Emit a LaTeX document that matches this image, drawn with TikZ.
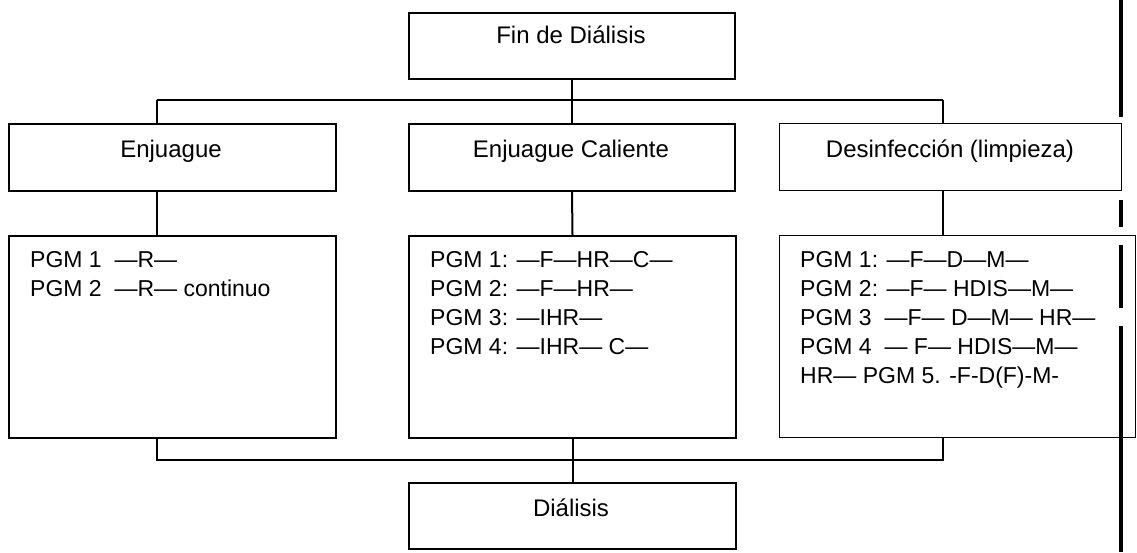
\documentclass[tikz,border=0pt]{standalone}
\usepackage{fontspec}
\setmainfont{Liberation Sans}
\begin{document}
\begin{tikzpicture}[x=1pt,y=-1pt,
  box/.style={draw, line width=2pt, anchor=north west, inner sep=0pt},
  thinbox/.style={draw, line width=1.2pt, anchor=north west, inner sep=0pt},
  title/.style={anchor=base, inner sep=0pt, font=\fontsize{24}{28}\selectfont},
  pgm/.style={anchor=base west, inner sep=0pt, font=\fontsize{23}{29}\selectfont},
  conn/.style={line width=2pt},
  thinconn/.style={line width=1.1pt},
  bar/.style={line width=4pt}]
\useasboundingbox (0,0) rectangle (1137,552);
% boxes
\node[box, minimum width=326pt, minimum height=66pt] (top) at (408,12) {};
\node[box, minimum width=327pt, minimum height=67pt] (enj) at (8,123) {};
\node[box, minimum width=326pt, minimum height=67pt] (cal) at (408,123) {};
\node[thinbox, minimum width=342pt, minimum height=67pt] (des) at (779,123) {};
\node[box, minimum width=327pt, minimum height=202pt] (l1) at (8,235) {};
\node[box, minimum width=327pt, minimum height=202pt] (l2) at (408,235) {};
\node[thinbox, minimum width=356pt, minimum height=202pt] (l3) at (779,235) {};
\node[box, minimum width=327pt, minimum height=66pt] (dia) at (408,482) {};
% titles
\node[title] (ttop) at (571,43) {Fin de Diálisis};
\node[title] (tenj) at (171,157) {Enjuague};
\node[title] (tcal) at (571,157) {Enjuague Caliente};
\node[title] (tdes) at (950,157) {Desinfección (limpieza)};
\node[title] (tdia) at (571,516) {Diálisis};
% program lists
\node[pgm] (a1) at (30,267) {PGM 1~~—R—};
\node[pgm] (a2) at (30,296) {PGM 2~~—R— continuo};
\node[pgm] (b1) at (430,267) {PGM 1: —F—HR—C—};
\node[pgm] (b2) at (430,296) {PGM 2: —F—HR—};
\node[pgm] (b3) at (430,325) {PGM 3: —IHR—};
\node[pgm] (b4) at (430,354) {PGM 4: —IHR— C—};
\node[pgm] (c1) at (800,267) {PGM 1: —F—D—M—};
\node[pgm] (c2) at (800,296) {PGM 2: —F— HDIS—M—};
\node[pgm] (c3) at (800,325) {PGM 3~~—F— D—M— HR—};
\node[pgm] (c4) at (800,354) {PGM 4~~— F— HDIS—M—};
\node[pgm] (c5) at (800,383) {HR— PGM 5. -F-D(F)-M-};
% connectors
\coordinate (btl) at (157,100);
\coordinate (btr) at (943,100);
\coordinate (bbl) at (157,460);
\coordinate (bbr) at (943,460);
\draw[conn] (top.south) -- (cal.north);
\draw[conn] (btl) -- (btr);
\draw[conn] (btl) -- (btl |- enj.north);
\draw[thinconn] (btr) -- (btr |- des.north);
\draw[conn] (btl |- enj.south) -- (btl |- l1.north);
\draw[conn] (cal.south) -- (l2.north);
\draw[thinconn] (btr |- des.south) -- (btr |- l3.north);
\draw[conn] (bbl |- l1.south) -- (bbl) -- (bbr) -- (bbr |- l3.south);
\draw[conn] (l2.south) -- (dia.north);
% dark scan bar at right
\coordinate (s0) at (1121,0);
\coordinate (s1) at (1121,117);
\coordinate (s2) at (1121,200);
\coordinate (s3) at (1121,227);
\coordinate (s4) at (1121,245);
\coordinate (s5) at (1121,308);
\coordinate (s6) at (1121,326);
\coordinate (s7) at (1121,552);
\draw[bar] (s0) -- (s1);
\draw[bar] (s2) -- (s3);
\draw[bar] (s4) -- (s5);
\draw[bar] (s6) -- (s7);
\end{tikzpicture}
\end{document}
